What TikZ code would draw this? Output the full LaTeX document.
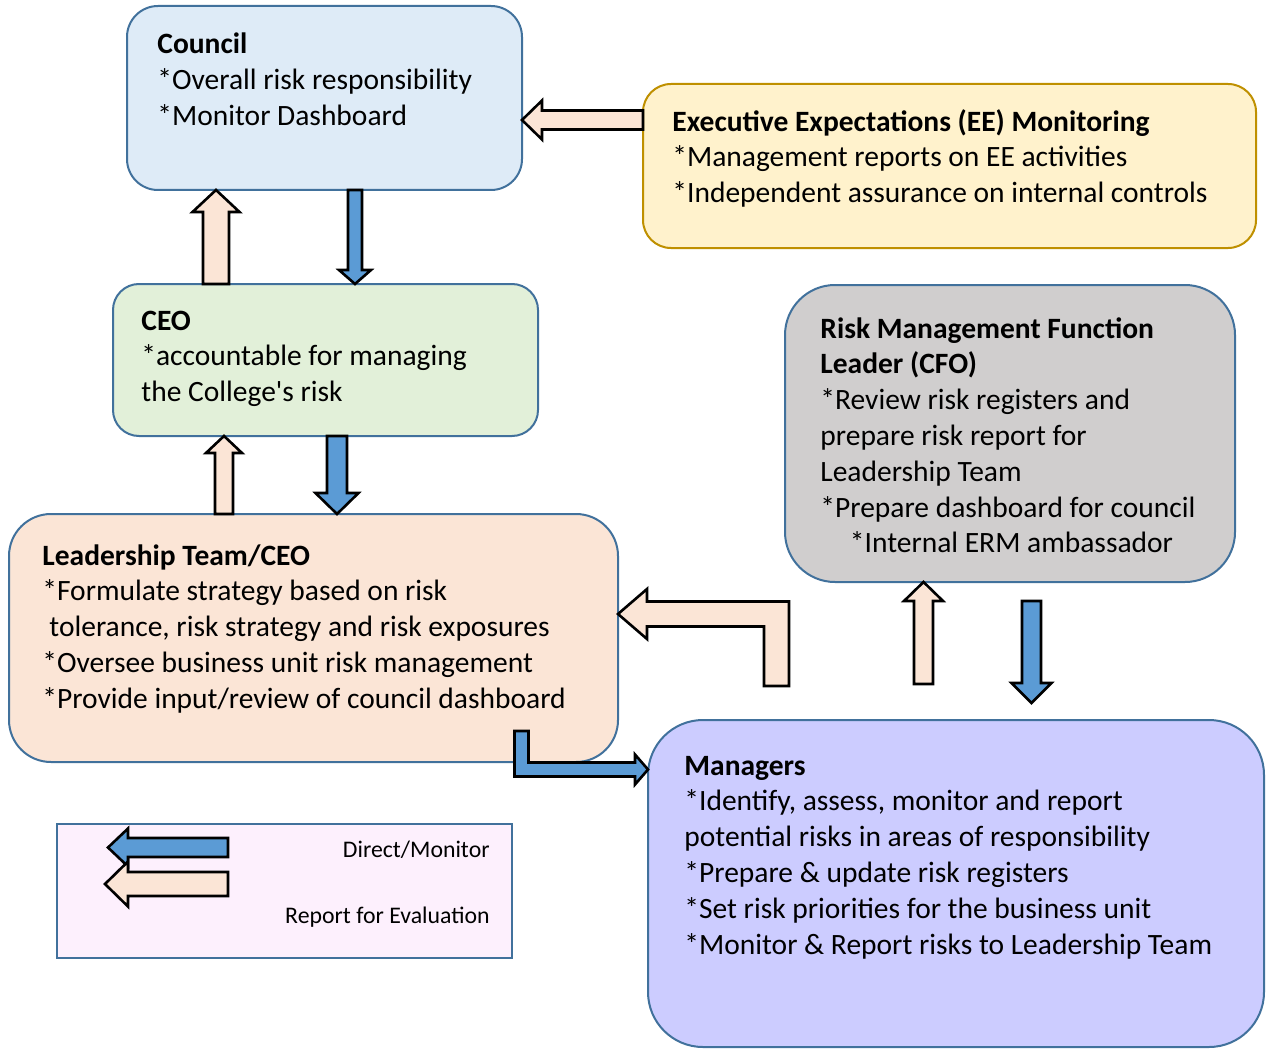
\documentclass[tikz,border=0pt]{standalone}
\usepackage{fontspec}
\setmainfont{Carlito}
\usepackage{xcolor}
\usepackage{tikz}
\usetikzlibrary{calc, positioning}
\definecolor{boxblue}{RGB}{65,113,156}
\definecolor{councilfill}{RGB}{222,235,247}
\definecolor{eefill}{RGB}{255,242,204}
\definecolor{eeborder}{RGB}{191,144,0}
\definecolor{ceofill}{RGB}{226,240,217}
\definecolor{rmffill}{RGB}{208,206,206}
\definecolor{peach}{RGB}{251,229,214}
\definecolor{mgrfill}{RGB}{204,204,255}
\definecolor{legendfill}{RGB}{253,240,253}
\definecolor{dirblue}{RGB}{91,155,213}
\tikzset{
    boxnode/.style = {draw=boxblue, line width=1pt, rectangle, inner sep=0pt, outer sep=0pt, anchor=north west},
    textnode/.style = {draw=none, fill=none, inner sep=0pt, anchor=base west, align=left,
      font=\fontsize{14.75}{17.9}\selectfont},
    legendtext/.style = {draw=none, fill=none, inner sep=0pt, anchor=base east, font=\fontsize{11.9}{14}\selectfont},
    directarrow/.style = {draw=black, line width=1.3pt, fill=dirblue},
    reportarrow/.style = {draw=black, line width=1.3pt, fill=peach},
    % straight block arrow: shaft half width, head half width, head length
    blockarrow/.style n args={3}{to path={
      let \p1=(\tikztostart), \p2=(\tikztotarget),
          \n1={veclen(\x2-\x1,\y2-\y1)},
          \n2={(\x2-\x1)/\n1}, \n3={(\y2-\y1)/\n1} in
      ({\x1-(\n3)*#1},{\y1+(\n2)*#1})
      -- ({\x2-(\n2)*#3-(\n3)*#1},{\y2-(\n3)*#3+(\n2)*#1})
      -- ({\x2-(\n2)*#3-(\n3)*#2},{\y2-(\n3)*#3+(\n2)*#2})
      -- (\x2,\y2)
      -- ({\x2-(\n2)*#3+(\n3)*#2},{\y2-(\n3)*#3-(\n2)*#2})
      -- ({\x2-(\n2)*#3+(\n3)*#1},{\y2-(\n3)*#3-(\n2)*#1})
      -- ({\x1+(\n3)*#1},{\y1-(\n2)*#1})
      -- cycle}},
    % bent block arrow, vertical leg first
    bentarrow/.style n args={3}{to path={
      let \p1=(\tikztostart), \p2=(\tikztotarget),
          \n1={sign(\x2-\x1)}, \n2={sign(\y2-\y1)} in
      ({\x1-(\n1)*#1},\y1)
      -- ({\x1-(\n1)*#1},{\y2+(\n2)*#1})
      -- ({\x2-(\n1)*#3},{\y2+(\n2)*#1})
      -- ({\x2-(\n1)*#3},{\y2+(\n2)*#2})
      -- (\x2,\y2)
      -- ({\x2-(\n1)*#3},{\y2-(\n2)*#2})
      -- ({\x2-(\n1)*#3},{\y2-(\n2)*#1})
      -- ({\x1+(\n1)*#1},{\y2-(\n2)*#1})
      -- ({\x1+(\n1)*#1},\y1)
      -- cycle}}
}

\begin{document}
\begin{tikzpicture}[x=0.5pt, y=-0.5pt]
    \path[use as bounding box, fill=white] (0,0) rectangle (1267,1048);

    % boxes
    \node[boxnode, name=council, fill=councilfill, minimum width=197.5pt, minimum height=92pt, rounded corners=15.5pt] at (127,6) {};
    \node[boxnode, name=ee, draw=eeborder, fill=eefill, minimum width=306.5pt, minimum height=82pt, rounded corners=14pt] at (643,84) {};
    \node[boxnode, name=ceo, fill=ceofill, minimum width=212.5pt, minimum height=76pt, rounded corners=13pt] at (113,284) {};
    \node[boxnode, name=rmf, fill=rmffill, minimum width=225pt, minimum height=148.5pt, rounded corners=25pt] at (785,285) {};
    \node[boxnode, name=lead, fill=peach, minimum width=304.5pt, minimum height=124pt, rounded corners=21pt] at (9,514) {};
    \node[boxnode, name=mgr, fill=mgrfill, minimum width=308pt, minimum height=163.5pt, rounded corners=27.5pt] at (648,720) {};
    \node[boxnode, name=legend, fill=legendfill, minimum width=227.5pt, minimum height=67pt] at (57,824) {};

    % texts (placed at the baseline of their last line)
    \node[textnode, name=councilText] at (157,125.6) {\textbf{Council}\\{*}Overall risk responsibility\\{*}Monitor Dashboard};
    \node[textnode, name=eeText] at (672,202.6) {\textbf{Executive Expectations (EE) Monitoring}\\{*}Management reports on EE activities\\{*}Independent assurance on internal controls};
    \node[textnode, name=ceoText] at (141,401.6) {\textbf{CEO}\\{*}accountable for managing\\the College\textquotesingle s risk};
    \node[textnode, name=rmfText] at (820,552.8) {\textbf{Risk Management Function}\\\textbf{Leader (CFO)}\\{*}Review risk registers and\\prepare risk report for\\Leadership Team\\{*}Prepare dashboard for council\\\hspace*{1em}*Internal ERM ambassador};
    \node[textnode, name=leadText] at (42,708.2) {\textbf{Leadership Team/CEO}\\{*}Formulate strategy based on risk\\\hspace*{3.5pt}tolerance, risk strategy and risk exposures\\{*}Oversee business unit risk management\\{*}Provide input/review of council dashboard};
    \node[textnode, name=mgrText] at (684,954) {\textbf{Managers}\\{*}Identify, assess, monitor and report\\potential risks in areas of responsibility\\{*}Prepare \& update risk registers\\{*}Set risk priorities for the business unit\\{*}Monitor \& Report risks to Leadership Team};
    \node[legendtext, name=dirText] at (490,857) {Direct/Monitor};
    \node[legendtext, name=repText] at (490,923) {Report for Evaluation};

    % arrow positions
    \coordinate (upA) at (216,0);
    \coordinate (dnA) at (355,0);
    \coordinate (eeY) at (0,120);
    \coordinate (upB) at (224,0);
    \coordinate (dnB) at (337,0);
    \coordinate (mgrUpS) at (923.5,684);
    \coordinate (rmfDnS) at (1031.5,601);
    \coordinate (rmfDnE) at (1031.5,703);
    \coordinate (bendUpS) at (776.5,686);
    \coordinate (bendUpY) at (0,614);
    \coordinate (bendDnS) at (521.5,731);
    \coordinate (bendDnY) at (0,769.5);
    \coordinate (legDirS) at (228,847.5);
    \coordinate (legDirE) at (108,847.5);
    \coordinate (legRepS) at (228,884);
    \coordinate (legRepE) at (105,884);

    % arrows
    \draw[reportarrow, blockarrow={6.5pt}{11.75pt}{11pt}] (ceo.north -| upA) to (council.south -| upA);
    \draw[directarrow, blockarrow={3.5pt}{8pt}{7pt}] (council.south -| dnA) to (ceo.north -| dnA);
    \draw[reportarrow, blockarrow={4.75pt}{9.75pt}{10pt}] (ee.west |- eeY) to (council.east |- eeY);
    \draw[reportarrow, blockarrow={4.5pt}{9pt}{8.5pt}] (lead.north -| upB) to (ceo.south -| upB);
    \draw[directarrow, blockarrow={5pt}{10.75pt}{10.5pt}] (ceo.south -| dnB) to (lead.north -| dnB);
    \draw[reportarrow, blockarrow={4.75pt}{9.75pt}{9.5pt}] (mgrUpS) to (rmf.south -| mgrUpS);
    \draw[directarrow, blockarrow={4.75pt}{10pt}{10pt}] (rmfDnS) to (rmfDnE);
    \draw[reportarrow, bentarrow={6.25pt}{12.5pt}{14.5pt}] (bendUpS) to (lead.east |- bendUpY);
    \draw[directarrow, bentarrow={3.5pt}{7.5pt}{6.5pt}] (bendDnS) to (mgr.west |- bendDnY);
    \draw[directarrow, blockarrow={4.75pt}{9.5pt}{10pt}] (legDirS) to (legDirE);
    \draw[reportarrow, blockarrow={6pt}{11.25pt}{11.5pt}] (legRepS) to (legRepE);
\end{tikzpicture}
\end{document}
